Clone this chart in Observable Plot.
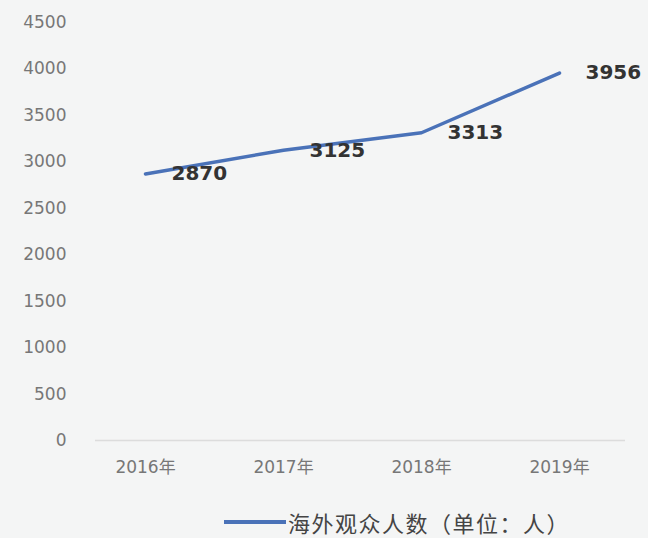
<!DOCTYPE html>
<html><head><meta charset="utf-8">
<script src="https://cdn.jsdelivr.net/npm/d3@7"></script>
<script src="https://cdn.jsdelivr.net/npm/@observablehq/plot@0.6"></script>
<style>
html,body{margin:0;padding:0;background:#f4f5f5;overflow:hidden;}
#chart{width:648px;height:496px;}
.legend{box-sizing:border-box;display:flex;align-items:center;height:40px;padding-top:12px;padding-left:224px;font-family:"Noto Sans CJK SC","Liberation Sans",sans-serif;font-size:22px;line-height:1;letter-spacing:1.5px;color:#444;}
.legend .sw{width:62px;height:4px;background:#4a72b8;margin-right:2px;}
</style></head>
<body>
<div id="chart"></div>
<div class="legend"><span class="sw"></span><span>海外观众人数（单位：人）</span></div>
<script>
const years = ["2016年","2017年","2018年","2019年"];
const values = [2870, 3125, 3313, 3956];
const yTicks = [0,500,1000,1500,2000,2500,3000,3500,4000,4500];
const data = years.map((y,i)=>({year:y, value:values[i]}));

const chart = Plot.plot({
  width: 648,
  height: 496,
  marginTop: 22,
  marginBottom: 56,
  marginLeft: 76,
  marginRight: 20,
  style: {background: "transparent", fontFamily: "'DejaVu Sans','Noto Sans CJK SC',sans-serif"},
  x: {type: "band", domain: years, padding: 0, label: null},
  y: {domain: [0, 4500], label: null},
  marks: [
    Plot.ruleY([0], {stroke: "#dcdcdc", strokeWidth: 1.5, insetLeft: 19, insetRight: 3}),
    Plot.axisY({ticks: yTicks, tickFormat: d3.format("d"), tickSize: 0, tickPadding: 10, fontSize: 17, fill: "#777", label: null}),
    Plot.axisX({tickSize: 0, tickPadding: 20, fontSize: 17, fill: "#777", label: null}),
    Plot.line(data, {x: "year", y: "value", stroke: "#4a72b8", strokeWidth: 3.5, strokeLinejoin: "round"}),
    Plot.text(data, {x: "year", y: "value", text: d => String(d.value), textAnchor: "start", dx: 26, dy: 0, fontSize: 20, fontWeight: "bold", fill: "#333"})
  ]
});
document.getElementById("chart").append(chart);
</script>
</body></html>
